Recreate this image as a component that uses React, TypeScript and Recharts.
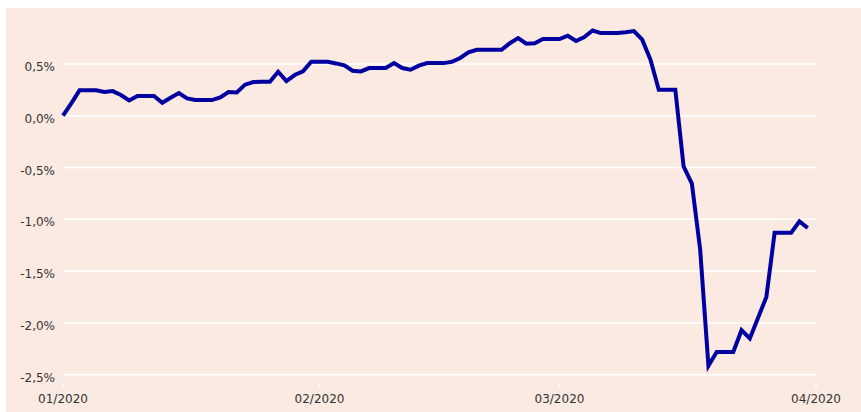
import { LineChart, Line, XAxis, YAxis, CartesianGrid } from "recharts"

// cumulative change in %, one value per calendar day starting 01/01/2020
const values = [
  0, 0.12, 0.245, 0.245, 0.245, 0.23, 0.238, 0.2, 0.148, 0.19,
  0.19, 0.19, 0.125, 0.174, 0.219, 0.167, 0.151, 0.151, 0.151, 0.177,
  0.229, 0.225, 0.3, 0.325, 0.328, 0.328, 0.425, 0.335, 0.393, 0.428,
  0.521, 0.521, 0.521, 0.505, 0.486, 0.434, 0.428, 0.46, 0.46, 0.46,
  0.508, 0.46, 0.444, 0.483, 0.508, 0.508, 0.508, 0.521, 0.557, 0.611,
  0.637, 0.637, 0.637, 0.637, 0.7, 0.75, 0.695, 0.7, 0.74, 0.74,
  0.74, 0.772, 0.721, 0.76, 0.823, 0.798, 0.798, 0.798, 0.805, 0.817,
  0.734, 0.54, 0.25, 0.25, 0.25, -0.49, -0.656, -1.29, -2.413, -2.28,
  -2.28, -2.28, -2.07, -2.15, -1.95, -1.75, -1.13, -1.13, -1.13, -1.02,
  -1.084,
]

const monthTicks = [0, 31, 60, 91]
const monthLabels = ["01/2020", "02/2020", "03/2020", "04/2020"]
const yTicks = [-2.5, -2, -1.5, -1, -0.5, 0, 0.5]
const yDomain = [-2.58, 0.982]

const data = values.map((v, i) => ({ day: i, value: v }))

const fmtPct = (v: number) => v.toFixed(1).replace(".", ",") + "%"

function YTick({ x, y, payload }: any) {
  return (
    <text x={x} y={y} dy={7} textAnchor="end" fill="#333" fontSize={12} fontFamily="DejaVu Sans">
      {fmtPct(payload.value)}
    </text>
  )
}

// only the tick lines, not the plot edges
function gridRows({ offset }: any) {
  const [lo, hi] = yDomain
  return yTicks.map((t) => offset.top + (offset.height * (hi - t)) / (hi - lo))
}

export default function App() {
  return (
    <div style={{ position: "absolute", left: 0, top: 0, width: 861, height: 412 }}>
      <div style={{ position: "absolute", left: 6, top: 8, right: 0, bottom: 0, background: "#FBEAE2" }} />
      <div style={{ position: "absolute", left: 0, top: 0 }}>
        <LineChart width={861} height={412} data={data} margin={{ top: 14, right: 45, bottom: 0, left: 8 }}>
          <CartesianGrid
            vertical={false}
            stroke="#ffffff"
            strokeWidth={1.5}
            horizontalCoordinatesGenerator={gridRows}
          />
          <XAxis
            dataKey="day"
            type="number"
            domain={[0, 91]}
            ticks={monthTicks}
            tickFormatter={(v: number) => monthLabels[monthTicks.indexOf(v)]}
            height={29}
            axisLine={false}
            tickLine={{ stroke: "#ffffff", strokeWidth: 1.5 }}
            tickSize={4}
            tickMargin={7}
            tick={{ fill: "#333", fontSize: 12, fontFamily: "DejaVu Sans" }}
            interval={0}
          />
          <YAxis
            type="number"
            domain={yDomain}
            ticks={yTicks}
            width={55}
            axisLine={false}
            tickLine={false}
            tickSize={0}
            tickMargin={8}
            tick={<YTick />}
            interval={0}
            allowDataOverflow
          />
          <Line
            type="linear"
            dataKey="value"
            stroke="#0000A0"
            strokeWidth={4}
            dot={false}
            isAnimationActive={false}
          />
        </LineChart>
      </div>
    </div>
  )
}
